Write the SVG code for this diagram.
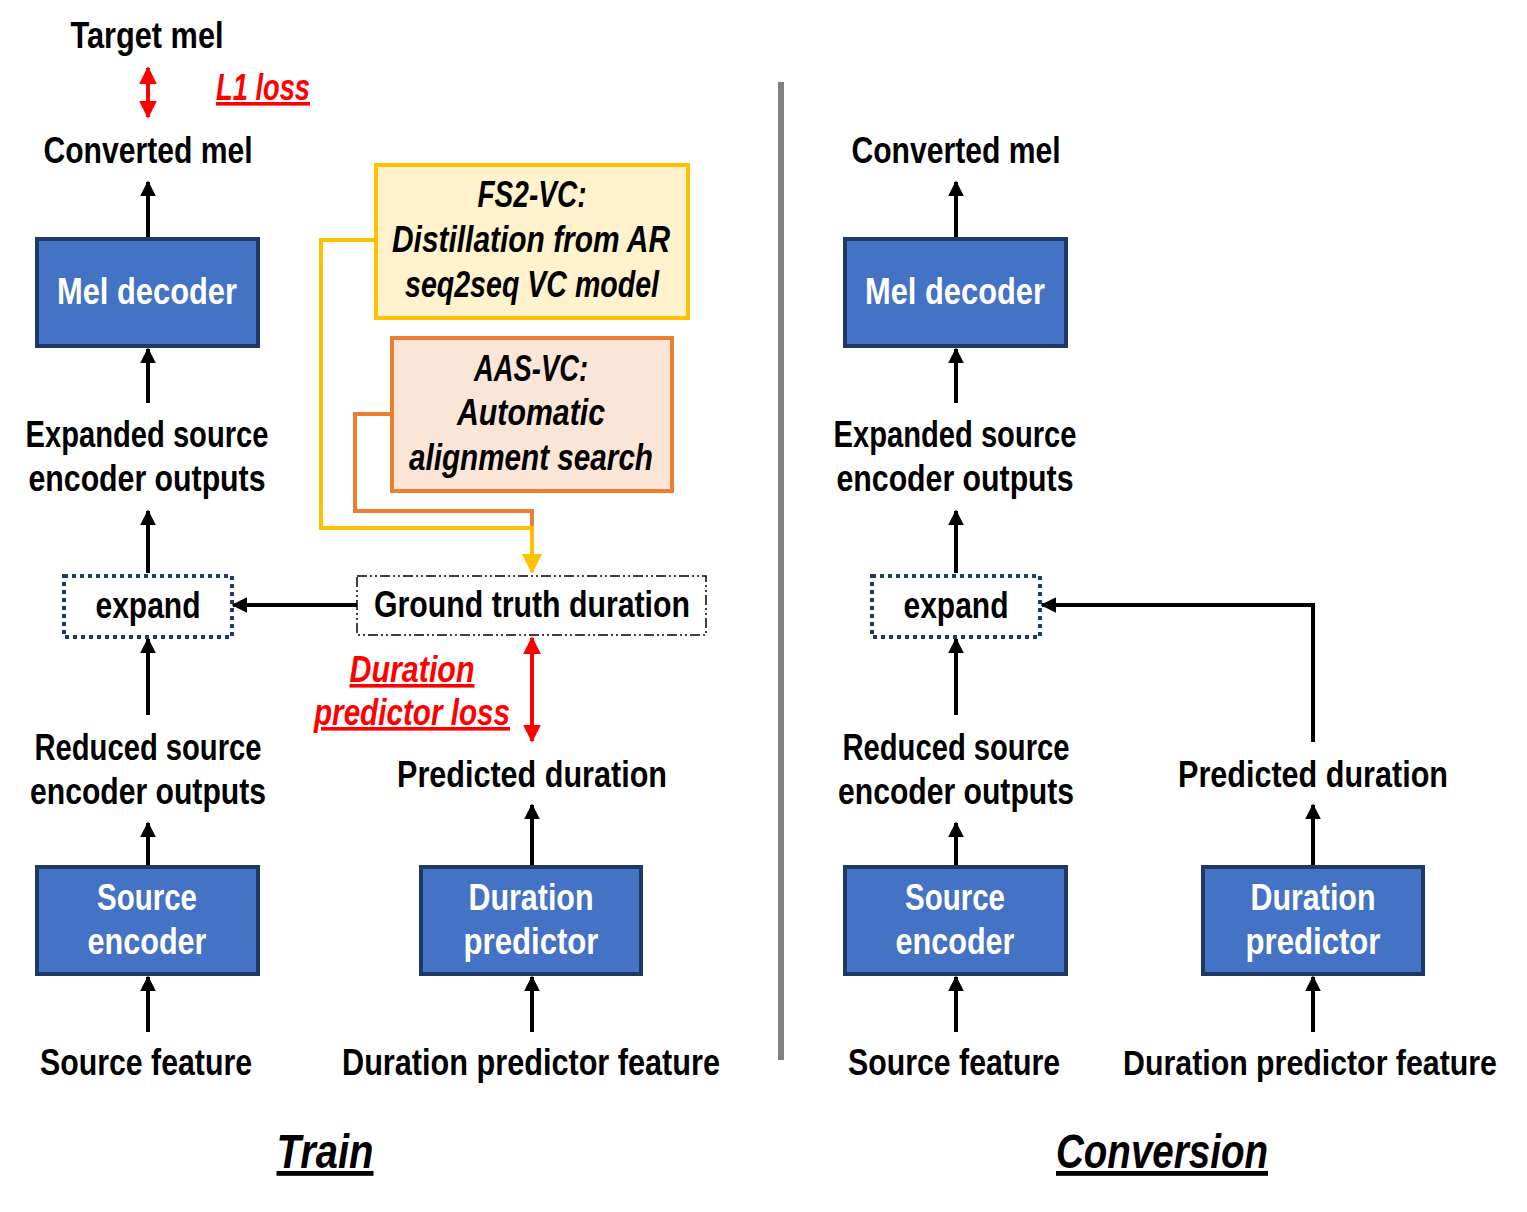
<svg xmlns="http://www.w3.org/2000/svg" width="1527" height="1212" viewBox="0 0 1527 1212">
<defs>
<marker id="ah" viewBox="0 0 10 10" refX="9" refY="5" markerWidth="4" markerHeight="4.5" orient="auto-start-reverse" markerUnits="strokeWidth"><path d="M0,0 L10,5 L0,10 z" fill="#000"/></marker>
<marker id="ahr" viewBox="0 0 10 10" refX="9" refY="5" markerWidth="4.5" markerHeight="5.5" orient="auto-start-reverse" markerUnits="strokeWidth"><path d="M0,0 L10,5 L0,10 z" fill="#FF0000"/></marker>
<marker id="ahy" viewBox="0 0 10 10" refX="9" refY="5" markerWidth="5" markerHeight="5.5" orient="auto" markerUnits="strokeWidth"><path d="M0,0 L10,5 L0,10 z" fill="#FFC000"/></marker>
</defs>
<style>
text{font-family:"Liberation Sans",Arial,sans-serif;font-weight:bold;font-size:36px;fill:#000;text-anchor:middle}
.w{fill:#fff}
.it{font-style:italic}
.red{fill:#FF0000;font-style:italic;text-decoration:underline}
.big{font-size:48px;font-style:italic;text-decoration:underline}
.blk{fill:#4472C4;stroke:#1F3864;stroke-width:4}
.exp{fill:#fff;stroke:#1F3864;stroke-width:4;stroke-dasharray:4 4}
.con{stroke:#000;stroke-width:4;fill:none;marker-end:url(#ah)}
</style>
<rect width="1527" height="1212" fill="#fff"/>
<line x1="781" y1="82" x2="781" y2="1060" stroke="#808080" stroke-width="6"/>

<g id="connectors">
<line class="con" x1="148" y1="238" x2="148" y2="182"/>
<line class="con" x1="148" y1="403" x2="148" y2="349"/>
<line class="con" x1="148" y1="573" x2="148" y2="511"/>
<line class="con" x1="148" y1="715" x2="148" y2="639"/>
<line class="con" x1="148" y1="866" x2="148" y2="823"/>
<line class="con" x1="148" y1="1032" x2="148" y2="977"/>
<line class="con" x1="357" y1="605" x2="233" y2="605"/>
<line class="con" x1="532" y1="866" x2="532" y2="805"/>
<line class="con" x1="532" y1="1032" x2="532" y2="977"/>
<line x1="148" y1="68" x2="148" y2="117" stroke="#FF0000" stroke-width="4" marker-start="url(#ahr)" marker-end="url(#ahr)"/>
<line x1="532" y1="638" x2="532" y2="741" stroke="#FF0000" stroke-width="4" marker-start="url(#ahr)" marker-end="url(#ahr)"/>
<polyline points="392,414 355,414 355,511 532,511 532,528" fill="none" stroke="#ED7D31" stroke-width="4"/>
<polyline points="376,240 321,240 321,528 532,528 532,572" fill="none" stroke="#FFC000" stroke-width="4" marker-end="url(#ahy)"/>
<line class="con" x1="956" y1="238" x2="956" y2="182"/>
<line class="con" x1="956" y1="403" x2="956" y2="349"/>
<line class="con" x1="956" y1="573" x2="956" y2="511"/>
<line class="con" x1="956" y1="715" x2="956" y2="639"/>
<line class="con" x1="956" y1="866" x2="956" y2="823"/>
<line class="con" x1="956" y1="1032" x2="956" y2="977"/>
<polyline class="con" points="1313,742 1313,605 1042,605"/>
<line class="con" x1="1313" y1="866" x2="1313" y2="805"/>
<line class="con" x1="1313" y1="1032" x2="1313" y2="977"/>
</g>

<g id="train-target"><text x="147" y="48" textLength="153" lengthAdjust="spacingAndGlyphs">Target mel</text></g>
<g id="l1loss"><text class="red" x="263" y="100" textLength="94" lengthAdjust="spacingAndGlyphs">L1 loss</text></g>
<g id="train-converted"><text x="148" y="163" textLength="209" lengthAdjust="spacingAndGlyphs">Converted mel</text></g>
<g id="train-meldecoder"><rect class="blk" x="37" y="239" width="221" height="107"/><text class="w" x="147" y="304" textLength="180" lengthAdjust="spacingAndGlyphs">Mel decoder</text></g>
<g id="train-expanded"><text x="147" y="447" textLength="243" lengthAdjust="spacingAndGlyphs">Expanded source</text><text x="147" y="491" textLength="237" lengthAdjust="spacingAndGlyphs">encoder outputs</text></g>
<g id="train-expand"><rect class="exp" x="64" y="576" width="168" height="61"/><text x="148" y="618" textLength="105" lengthAdjust="spacingAndGlyphs">expand</text></g>
<g id="train-reduced"><text x="148" y="760" textLength="227" lengthAdjust="spacingAndGlyphs">Reduced source</text><text x="148" y="804" textLength="236" lengthAdjust="spacingAndGlyphs">encoder outputs</text></g>
<g id="train-srcenc"><rect class="blk" x="37" y="867" width="221" height="107"/><text class="w" x="147" y="910" textLength="100" lengthAdjust="spacingAndGlyphs">Source</text><text class="w" x="147" y="954" textLength="119" lengthAdjust="spacingAndGlyphs">encoder</text></g>
<g id="train-srcfeat"><text x="146" y="1075" textLength="212" lengthAdjust="spacingAndGlyphs">Source feature</text></g>

<g id="fs2vc"><rect x="376" y="165" width="312" height="153" fill="#FFF2CC" stroke="#FFC000" stroke-width="4"/><text class="it" x="532" y="207" textLength="109" lengthAdjust="spacingAndGlyphs">FS2-VC:</text><text class="it" x="531" y="252" textLength="278" lengthAdjust="spacingAndGlyphs">Distillation from AR</text><text class="it" x="532" y="297" textLength="254" lengthAdjust="spacingAndGlyphs">seq2seq VC model</text></g>
<g id="aasvc"><rect x="392" y="338" width="280" height="153" fill="#FBE5D6" stroke="#ED7D31" stroke-width="4"/><text class="it" x="531" y="381" textLength="114" lengthAdjust="spacingAndGlyphs">AAS-VC:</text><text class="it" x="531" y="425" textLength="148" lengthAdjust="spacingAndGlyphs">Automatic</text><text class="it" x="531" y="470" textLength="244" lengthAdjust="spacingAndGlyphs">alignment search</text></g>
<g id="gtduration"><rect x="357" y="576" width="349" height="59" fill="#fff" stroke="#000" stroke-width="1.5" stroke-dasharray="10 3 2 3 2 3"/><text x="532" y="617" textLength="316" lengthAdjust="spacingAndGlyphs">Ground truth duration</text></g>
<g id="durloss"><text class="red" x="412" y="682" textLength="125" lengthAdjust="spacingAndGlyphs">Duration</text><text class="red" x="412" y="725" textLength="196" lengthAdjust="spacingAndGlyphs">predictor loss</text></g>
<g id="train-predicted"><text x="532" y="787" textLength="270" lengthAdjust="spacingAndGlyphs">Predicted duration</text></g>
<g id="train-durpred"><rect class="blk" x="421" y="867" width="220" height="107"/><text class="w" x="531" y="910" textLength="125" lengthAdjust="spacingAndGlyphs">Duration</text><text class="w" x="531" y="954" textLength="135" lengthAdjust="spacingAndGlyphs">predictor</text></g>
<g id="train-durfeat"><text x="531" y="1075" textLength="378" lengthAdjust="spacingAndGlyphs">Duration predictor feature</text></g>
<g id="train-label"><text class="big" x="325" y="1168" textLength="97" lengthAdjust="spacingAndGlyphs">Train</text></g>

<g id="conv-converted"><text x="956" y="163" textLength="209" lengthAdjust="spacingAndGlyphs">Converted mel</text></g>
<g id="conv-meldecoder"><rect class="blk" x="845" y="239" width="221" height="107"/><text class="w" x="955" y="304" textLength="180" lengthAdjust="spacingAndGlyphs">Mel decoder</text></g>
<g id="conv-expanded"><text x="955" y="447" textLength="243" lengthAdjust="spacingAndGlyphs">Expanded source</text><text x="955" y="491" textLength="237" lengthAdjust="spacingAndGlyphs">encoder outputs</text></g>
<g id="conv-expand"><rect class="exp" x="872" y="576" width="168" height="61"/><text x="956" y="618" textLength="105" lengthAdjust="spacingAndGlyphs">expand</text></g>
<g id="conv-reduced"><text x="956" y="760" textLength="227" lengthAdjust="spacingAndGlyphs">Reduced source</text><text x="956" y="804" textLength="236" lengthAdjust="spacingAndGlyphs">encoder outputs</text></g>
<g id="conv-predicted"><text x="1313" y="787" textLength="270" lengthAdjust="spacingAndGlyphs">Predicted duration</text></g>
<g id="conv-srcenc"><rect class="blk" x="845" y="867" width="221" height="107"/><text class="w" x="955" y="910" textLength="100" lengthAdjust="spacingAndGlyphs">Source</text><text class="w" x="955" y="954" textLength="119" lengthAdjust="spacingAndGlyphs">encoder</text></g>
<g id="conv-durpred"><rect class="blk" x="1203" y="867" width="220" height="107"/><text class="w" x="1313" y="910" textLength="125" lengthAdjust="spacingAndGlyphs">Duration</text><text class="w" x="1313" y="954" textLength="135" lengthAdjust="spacingAndGlyphs">predictor</text></g>
<g id="conv-srcfeat"><text x="954" y="1075" textLength="212" lengthAdjust="spacingAndGlyphs">Source feature</text></g>
<g id="conv-durfeat"><text transform="translate(1310,1075) scale(0.842,1)" x="0" y="0">Duration predictor feature</text></g>
<g id="conv-label"><text class="big" x="1162" y="1168" textLength="212" lengthAdjust="spacingAndGlyphs">Conversion</text></g>
</svg>
